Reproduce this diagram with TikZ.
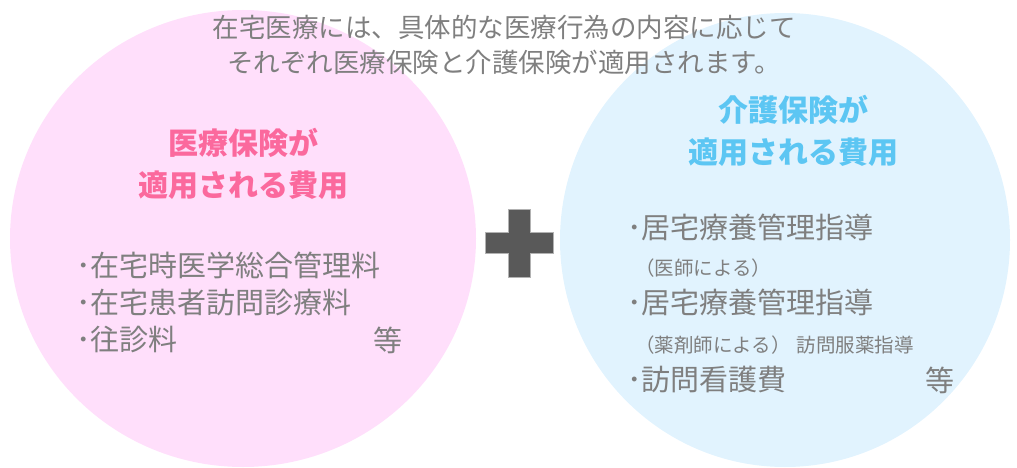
\documentclass[tikz,border=0pt]{standalone}
\usepackage{fontspec}
\setmainfont{Noto Sans CJK JP}
\usetikzlibrary{shapes.geometric}
\definecolor{IryoPink}{HTML}{FFDFFB}
\definecolor{KaigoBlue}{HTML}{E1F3FE}
\definecolor{IryoText}{HTML}{FB699D}
\definecolor{KaigoText}{HTML}{5CC6F3}
\definecolor{TextGray}{HTML}{7F7F7F}
\definecolor{PlusGray}{HTML}{595959}

\begin{document}
\begin{tikzpicture}[
        x=1pt, y=-1pt,
        area/.style={ellipse, inner sep=0pt, draw=none},
        heading/.style={align=center, font=\fontsize{30}{42}\selectfont\bfseries},
        item/.style={anchor=west, inner sep=0pt, text=TextGray, font=\fontsize{29}{34}\selectfont},
        note/.style={anchor=west, inner sep=0pt, text=TextGray, font=\fontsize{19.5}{24}\selectfont}
    ]
    \useasboundingbox (0,0) rectangle (1017,468);

    % Circles
    \node (iryo) [area, fill=IryoPink, minimum width=466, minimum height=457] at (243,238.5) {};
    \node (kaigo) [area, fill=KaigoBlue, minimum width=450, minimum height=454] at (785,240) {};

    % Title
    \node (title) [align=center, text=TextGray, font=\fontsize{26.5}{35}\selectfont] at (504,44.5) {
        在宅医療には、具体的な医療行為の内容に応じて\\
        それぞれ医療保険と介護保険が適用されます。
    };

    % Headings
    \node (iryohead) [heading, text=IryoText] at (243,164) {医療保険が\\適用される費用};
    \node (kaigohead) [heading, text=KaigoText] at (793,131) {介護保険が\\適用される費用};

    % Medical insurance items
    \node (iryo1) [item] at (76,265) {･在宅時医学総合管理料};
    \node (iryo2) [item] at (76,303) {･在宅患者訪問診療料};
    \node (iryo3) [item] at (76,340) {･往診料};
    \node (iryotou) [item, anchor=center] at (388,340) {等};

    % Care insurance items
    \node (kaigo1) [item] at (627,227) {･居宅療養管理指導};
    \node (kaigo1note) [note] at (635,268) {（医師による）};
    \node (kaigo2) [item] at (627,302) {･居宅療養管理指導};
    \node (kaigo2note) [note] at (635,345) {（薬剤師による）\hspace{6pt}訪問服薬指導};
    \node (kaigo3) [item] at (627,380) {･訪問看護費};
    \node (kaigotou) [item, anchor=center] at (940,380) {等};

    % Plus sign
    \draw [fill=PlusGray, draw=gray!60, line width=0.8pt]
        (508,209) -- (530,209) -- (530,232) -- (553,232) -- (553,253) -- (530,253)
        -- (530,277) -- (508,277) -- (508,253) -- (485,253) -- (485,232) -- (508,232) -- cycle;

\end{tikzpicture}
\end{document}
